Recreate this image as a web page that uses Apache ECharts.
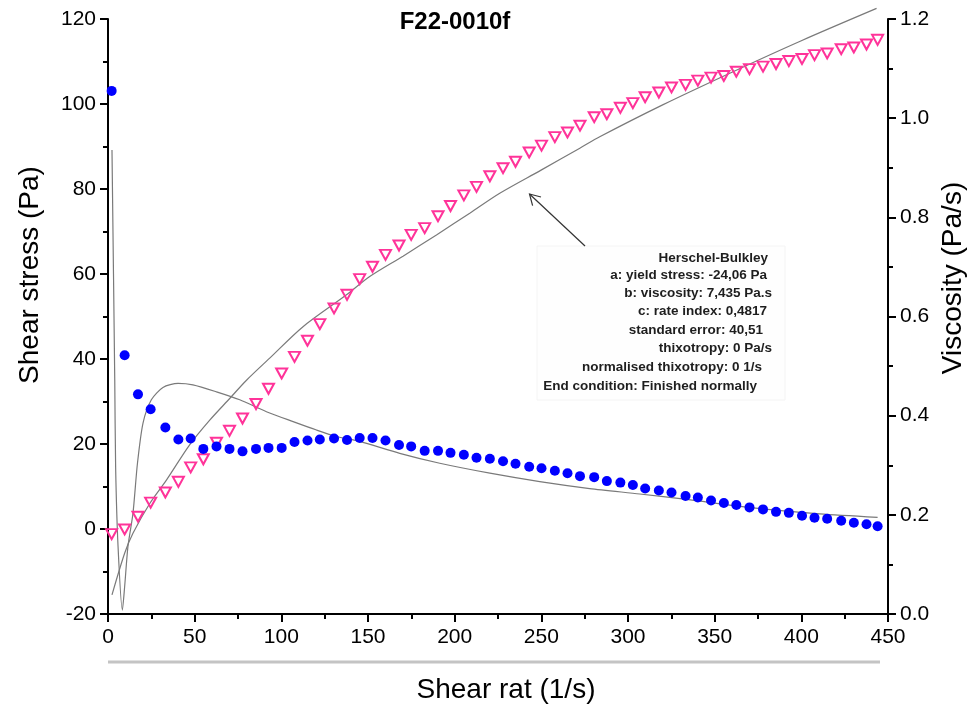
<!DOCTYPE html>
<html>
<head>
<meta charset="utf-8">
<script src="https://cdn.jsdelivr.net/npm/echarts@6/dist/echarts.min.js"></script>
<style>
html,body{margin:0;padding:0;background:#fff;}
#chart{width:972px;height:709px;}
</style>
</head>
<body>
<div id="chart"></div>
<script>
// ---- data ----
const shearRate = [2.1, 9.6, 17.3, 24.6, 33.1, 40.6, 47.7, 55.0, 62.6, 70.1, 77.6, 85.4, 92.6, 100.2, 107.6, 115.1, 122.2, 130.4, 137.9, 145.2, 152.6, 160.1, 167.9, 174.9, 182.7, 190.4, 197.6, 205.3, 212.6, 220.3, 227.9, 235.1, 243.0, 250.1, 257.8, 265.1, 272.3, 280.5, 287.8, 295.6, 302.8, 309.9, 317.8, 325.1, 333.2, 340.3, 347.9, 355.3, 362.5, 370.1, 377.9, 385.4, 392.8, 400.4, 407.6, 414.9, 423.0, 430.3, 437.6, 444.0];
const shearStress = [-1.2, -0.1, 2.9, 6.2, 8.6, 11.1, 14.5, 16.4, 20.3, 23.1, 26.0, 29.4, 33.0, 36.6, 40.5, 44.3, 48.2, 51.9, 55.1, 58.8, 61.7, 64.5, 66.7, 69.2, 70.8, 73.6, 76.0, 78.5, 80.5, 83.0, 84.9, 86.4, 88.6, 90.2, 92.2, 93.3, 94.9, 96.9, 97.6, 99.1, 100.2, 101.6, 102.7, 103.9, 104.5, 105.5, 106.2, 106.6, 107.6, 108.2, 108.8, 109.4, 110.1, 110.6, 111.5, 111.9, 112.9, 113.3, 114.0, 115.1];
const viscosity = [1.055, 0.522, 0.443, 0.413, 0.376, 0.352, 0.354, 0.333, 0.338, 0.333, 0.328, 0.333, 0.335, 0.335, 0.347, 0.350, 0.352, 0.354, 0.351, 0.355, 0.355, 0.350, 0.341, 0.338, 0.329, 0.329, 0.325, 0.321, 0.315, 0.313, 0.308, 0.303, 0.297, 0.294, 0.289, 0.284, 0.278, 0.276, 0.268, 0.265, 0.260, 0.253, 0.249, 0.245, 0.238, 0.235, 0.229, 0.224, 0.220, 0.215, 0.211, 0.206, 0.204, 0.198, 0.194, 0.192, 0.188, 0.184, 0.181, 0.177];

// Herschel-Bulkley fit curves
const fitStressX = [2.3, 9.6, 14.4, 24.1, 33.7, 47.1, 58.7, 70.2, 79.9, 93.3, 112.5, 137.6, 151.0, 170.2, 189.5, 208.7, 226.0, 250.1, 272.2, 283.7, 320.0, 360.6, 400.0, 443.4];
const fitStressY = [-15.5, -5.7, -1.0, 6.0, 11.5, 19.8, 25.6, 30.7, 35.0, 40.2, 47.6, 55.1, 59.4, 64.2, 69.2, 74.3, 79.0, 84.5, 89.6, 92.3, 99.8, 107.6, 114.9, 122.5];
const fitViscX = [2.3, 3.9, 4.4, 5.8, 8.3, 9.6, 11.5, 14.4, 17.0, 20.2, 25.0, 31.7, 40.4, 49.0, 62.6, 76.0, 91.4, 106.8, 120.3, 131.8, 145.2, 168.3, 191.4, 220.3, 249.1, 277.9, 306.8, 333.8, 372.2, 410.7, 444.0];
const fitViscY = [0.936, 0.472, 0.297, 0.136, 0.008, 0.055, 0.136, 0.203, 0.304, 0.385, 0.432, 0.457, 0.465, 0.462, 0.448, 0.432, 0.408, 0.388, 0.371, 0.358, 0.348, 0.324, 0.304, 0.284, 0.267, 0.253, 0.242, 0.231, 0.214, 0.202, 0.195];

const xTicks = {min: 0, max: 450, interval: 50};
const leftTicks = {min: -20, max: 120, interval: 20};
const rightTicks = {min: 0, max: 1.2, interval: 0.2};

const titleText = 'F22-0010f';
const xName = 'Shear rat (1/s)';
const leftName = 'Shear stress (Pa)';
const rightName = 'Viscosity (Pa/s)';
const noteLines = [
  'Herschel-Bulkley',
  'a: yield stress: -24,06 Pa',
  'b: viscosity: 7,435 Pa.s',
  'c: rate index: 0,4817',
  'standard error: 40,51',
  'thixotropy: 0 Pa/s',
  'normalised thixotropy: 0 1/s',
  'End condition: Finished normally'
];

// ---- chart ----
const FONT = '"Liberation Sans", Arial, sans-serif';
const chart = echarts.init(document.getElementById('chart'), null, {renderer: 'canvas'});

const axisCommon = {
  axisLine: {show: true, onZero: false, lineStyle: {color: '#000', width: 2}},
  axisTick: {show: true, inside: false, length: 8, lineStyle: {color: '#000', width: 2}},
  minorTick: {show: true, splitNumber: 2, length: 5, lineStyle: {color: '#000', width: 2}},
  splitLine: {show: false},
  minorSplitLine: {show: false}
};

const noteRight = [768, 767, 772, 767, 763, 772, 762, 757];
const noteY = [258, 275, 293, 311, 330, 348, 367, 386];

const graphics = [
  {type: 'text', x: 455, y: 22, style: {text: titleText, font: 'bold 24px ' + FONT, fill: '#000', align: 'center', verticalAlign: 'middle'}},
  {type: 'text', x: 30, y: 275, rotation: Math.PI / 2, style: {text: leftName, font: '28px ' + FONT, fill: '#000', align: 'center', verticalAlign: 'middle'}},
  {type: 'text', x: 953, y: 278, rotation: Math.PI / 2, style: {text: rightName, font: '28px ' + FONT, fill: '#000', align: 'center', verticalAlign: 'middle'}},
  {type: 'text', x: 506, y: 690, style: {text: xName, font: '28px ' + FONT, fill: '#000', align: 'center', verticalAlign: 'middle'}},
  {type: 'line', shape: {x1: 108, y1: 662, x2: 880, y2: 662}, style: {stroke: '#c4c4c4', lineWidth: 3}},
  {type: 'rect', shape: {x: 537, y: 246, width: 248, height: 154}, style: {fill: '#fefefe', stroke: '#f4f4f4', lineWidth: 1}, z: 1},
  {type: 'line', shape: {x1: 585, y1: 246, x2: 529.5, y2: 194}, style: {stroke: '#333', lineWidth: 1.2}, z: 10},
  {type: 'polyline', shape: {points: [[541, 197], [529.5, 194], [532.6, 205.6]]}, style: {stroke: '#333', lineWidth: 1.2, fill: null}, z: 10}
];
noteLines.forEach((t, i) => {
  graphics.push({type: 'text', x: noteRight[i], y: noteY[i], z: 10,
    style: {text: t, font: 'bold 13.5px ' + FONT, fill: '#1e1e1e', align: 'right', verticalAlign: 'middle'}});
});

const option = {
  animation: false,
  backgroundColor: '#fff',
  grid: {left: 108, right: 84, top: 19, bottom: 95, containLabel: false},
  xAxis: Object.assign({
    type: 'value', min: xTicks.min, max: xTicks.max, interval: xTicks.interval,
    axisLabel: {color: '#000', fontSize: 21, fontFamily: FONT, margin: 13}
  }, axisCommon),
  yAxis: [
    Object.assign({
      type: 'value', position: 'left', min: leftTicks.min, max: leftTicks.max, interval: leftTicks.interval,
      axisLabel: {color: '#000', fontSize: 21, fontFamily: FONT, margin: 12}
    }, axisCommon),
    Object.assign({
      type: 'value', position: 'right', min: rightTicks.min, max: rightTicks.max, interval: rightTicks.interval,
      axisLabel: {color: '#000', fontSize: 21, fontFamily: FONT, margin: 12, formatter: v => v.toFixed(1)}
    }, axisCommon)
  ],
  series: [
    {
      name: 'fit stress', type: 'line', yAxisIndex: 0, showSymbol: false, symbol: 'none',
      smooth: 0.3, clip: false,
      lineStyle: {color: '#7a7a7a', width: 1.2}, z: 2,
      data: fitStressX.map((x, i) => [x, fitStressY[i]])
    },
    {
      name: 'fit viscosity', type: 'line', yAxisIndex: 1, showSymbol: false, symbol: 'none',
      smooth: 0.25,
      lineStyle: {color: '#7a7a7a', width: 1.2}, z: 2,
      data: fitViscX.map((x, i) => [x, fitViscY[i]])
    },
    {
      name: 'Shear stress', type: 'scatter', yAxisIndex: 0,
      symbol: 'triangle', symbolRotate: 180, symbolSize: [11, 10],
      itemStyle: {color: 'rgba(255,255,255,0)', borderColor: '#ff3399', borderWidth: 2, opacity: 1},
      z: 3,
      data: shearRate.map((x, i) => [x, shearStress[i]])
    },
    {
      name: 'Viscosity', type: 'scatter', yAxisIndex: 1,
      symbol: 'circle', symbolSize: 10,
      itemStyle: {color: '#0000ff', opacity: 1},
      z: 4,
      data: shearRate.map((x, i) => [x, viscosity[i]])
    }
  ],
  graphic: graphics
};
chart.setOption(option);
</script>
</body>
</html>
